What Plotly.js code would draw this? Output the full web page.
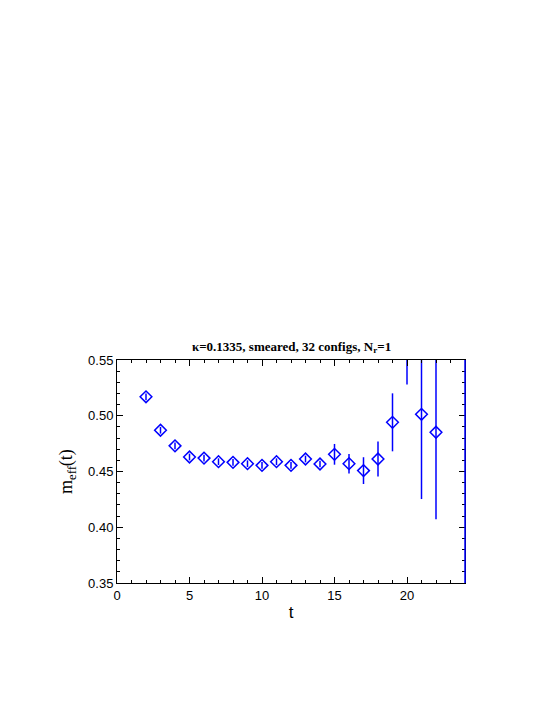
<!DOCTYPE html>
<html>
<head>
<meta charset="utf-8">
<script src="https://cdn.plot.ly/plotly-3.0.1.min.js"></script>
<style>
  body { margin: 0; background: #fff; }
  #graph { width: 545px; height: 705px; }
</style>
</head>
<body>
<div id="graph"></div>
<script>
// effective mass vs time slice
var T = [2, 3, 4, 5, 6, 7, 8, 9, 10, 11, 12, 13, 14, 15, 16, 17, 18, 19, 20, 21, 22];
var MEFF = [0.517, 0.487, 0.473, 0.463, 0.462, 0.4588, 0.4582, 0.457, 0.4555, 0.4588, 0.4555,
            0.4612, 0.4567, 0.4654, 0.457, 0.4508, 0.4612, 0.4941, 0.600, 0.5013, 0.4852];
var ERR = [0.003, 0.003, 0.003, 0.003, 0.003, 0.003, 0.003, 0.003, 0.003, 0.003, 0.003,
           0.003, 0.003, 0.0093, 0.0088, 0.012, 0.0157, 0.026, 0.072, 0.076, 0.078];

var xTicks = [0, 5, 10, 15, 20];
var yTicks = [0.35, 0.40, 0.45, 0.50, 0.55];

var trace = {
  x: T,
  y: MEFF,
  type: 'scatter',
  mode: 'markers',
  marker: {
    symbol: 'diamond-open',
    size: 9,
    color: '#0000ff',
    line: { color: '#0000ff', width: 1.5 }
  },
  error_y: {
    type: 'data',
    array: ERR,
    visible: true,
    color: '#0000ff',
    thickness: 1.5,
    width: 0
  },
  cliponaxis: true,
  showlegend: false
};

var layout = {
  width: 545,
  height: 705,
  paper_bgcolor: '#fff',
  plot_bgcolor: '#fff',
  margin: { l: 117, r: 80, t: 360, b: 122 },
  title: {
    text: '<b>κ=0.1335, smeared, 32 configs, N<sub>r</sub>=1</b>',
    font: { family: 'Liberation Serif, serif', size: 13, color: '#000' },
    x: 0.535,
    xanchor: 'center',
    y: 0.509,
    yanchor: 'middle'
  },
  xaxis: {
    range: [0, 24],
    tickvals: xTicks,
    ticktext: xTicks.map(String),
    ticks: 'inside',
    ticklen: 6,
    tickwidth: 1,
    tickcolor: '#000',
    minor: { dtick: 1, ticks: 'inside', ticklen: 3, tickcolor: '#000' },
    showline: true,
    linecolor: '#000',
    linewidth: 1,
    mirror: 'allticks',
    showgrid: false,
    zeroline: false,
    tickfont: { family: 'Liberation Sans, Arial, sans-serif', size: 13, color: '#000' },
    title: {
      text: 't',
      font: { family: 'Liberation Sans, Arial, sans-serif', size: 17, color: '#000' },
      standoff: 4
    }
  },
  yaxis: {
    range: [0.35, 0.55],
    tickvals: yTicks,
    ticktext: yTicks.map(function (v) { return v.toFixed(2); }),
    ticks: 'inside',
    ticklen: 6,
    tickwidth: 1,
    tickcolor: '#000',
    minor: { dtick: 0.01, ticks: 'inside', ticklen: 3, tickcolor: '#000' },
    showline: true,
    linecolor: '#000',
    linewidth: 1,
    mirror: 'allticks',
    showgrid: false,
    zeroline: false,
    tickfont: { family: 'Liberation Sans, Arial, sans-serif', size: 13, color: '#000' },
    title: {
      text: 'm<sub>eff</sub>(t)',
      font: { family: 'Liberation Serif, serif', size: 18, color: '#000' },
      standoff: 10
    }
  },
  shapes: [
    { type: 'line', xref: 'paper', yref: 'paper', x0: 1, x1: 1, y0: 0, y1: 1,
      line: { color: '#0000ff', width: 1.5 } }
  ]
};

Plotly.newPlot('graph', [trace], layout, { staticPlot: true });
</script>
</body>
</html>
